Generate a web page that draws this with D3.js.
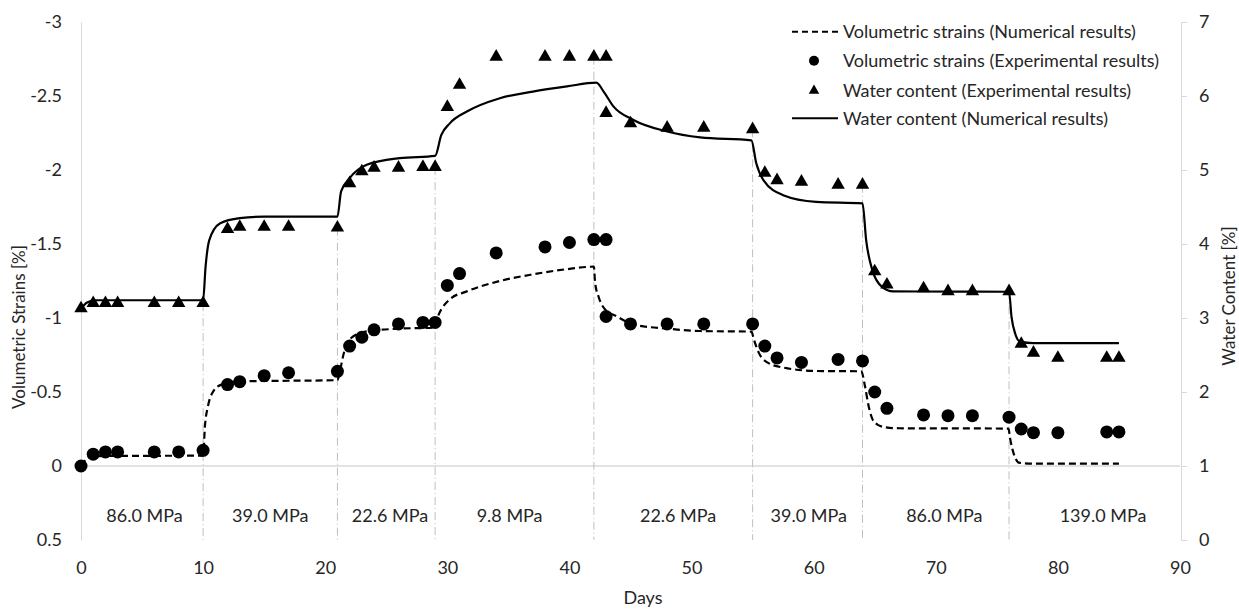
<!DOCTYPE html>
<html>
<head>
<meta charset="utf-8">
<script src="https://cdn.jsdelivr.net/npm/d3@7"></script>
<style>
  body { margin: 0; background: #fff; }
  text { font-family: Lato, "Open Sans", sans-serif; fill: #262626; }
</style>
</head>
<body>
<div id="chart"><svg></svg></div>
<script>
const width = 1239;
const height = 610;

// experimental points, [day, value]
const volExp = [
  [0, 0], [1, -0.08], [2, -0.095], [3, -0.095], [6, -0.095], [8, -0.095], [10, -0.106],
  [12, -0.55], [13, -0.57], [15, -0.61], [17, -0.63], [21, -0.64],
  [22, -0.81], [23, -0.87], [24, -0.92], [26, -0.96], [28, -0.97], [29, -0.97],
  [30, -1.22], [31, -1.30], [34, -1.44], [38, -1.48], [40, -1.51], [42, -1.53], [43, -1.53],
  [43, -1.01], [45, -0.96], [48, -0.96], [51, -0.96], [55, -0.96],
  [56, -0.81], [57, -0.73], [59, -0.70], [62, -0.72], [64, -0.71],
  [65, -0.50], [66, -0.39], [69, -0.345], [71, -0.34], [73, -0.34], [76, -0.33],
  [77, -0.25], [78, -0.225], [80, -0.225], [84, -0.23], [85, -0.23]
];

const waterExp = [
  [0, 3.13], [1, 3.2], [2, 3.2], [3, 3.2], [6, 3.2], [8, 3.2], [10, 3.2],
  [12, 4.2], [13, 4.23], [15, 4.23], [17, 4.23], [21, 4.22],
  [22, 4.82], [23, 4.98], [24, 5.03], [26, 5.03], [28, 5.04], [29, 5.04],
  [30, 5.85], [31, 6.15], [34, 6.53], [38, 6.53], [40, 6.53], [42, 6.53], [43, 6.53],
  [43, 5.77], [45, 5.63], [48, 5.57], [51, 5.57], [55, 5.55],
  [56, 4.96], [57, 4.86], [59, 4.84], [62, 4.8], [64, 4.8],
  [65, 3.63], [66, 3.45], [69, 3.4], [71, 3.36], [73, 3.36], [76, 3.36],
  [77, 2.65], [78, 2.53], [80, 2.46], [84, 2.46], [85, 2.46]
];

// numerical curves, [day, value]
const volNum = [
  [0, 0], [0.5, -0.05], [1, -0.065], [2, -0.068], [10, -0.07],
  [10.15, -0.27], [10.4, -0.405], [10.8, -0.5], [11.5, -0.55], [13, -0.572], [21, -0.58],
  [21.2, -0.64], [21.5, -0.755], [22, -0.856], [23.4, -0.91], [26.1, -0.928], [29, -0.935],
  [29.3, -1.025], [29.6, -1.07], [30.2, -1.126], [31.6, -1.18], [34.3, -1.25], [37, -1.295],
  [39.8, -1.33], [42, -1.347],
  [42.1, -1.24], [42.4, -1.14], [42.9, -1.06], [43.9, -1.01], [45.2, -0.957], [48, -0.928],
  [50.7, -0.912], [54.9, -0.908],
  [55.1, -0.856], [55.5, -0.766], [56.2, -0.70], [57.5, -0.665], [60.3, -0.642], [63.9, -0.64],
  [64.2, -0.54], [64.5, -0.405], [64.9, -0.304], [65.7, -0.264], [67, -0.255], [75.95, -0.253],
  [76.1, -0.18], [76.4, -0.079], [76.8, -0.023], [78, -0.016], [85, -0.016]
];

const waterNum = [
  [0, 3.13], [0.5, 3.21], [1.2, 3.24], [10, 3.24],
  [10.2, 3.69], [10.5, 4.05], [11.4, 4.28], [13, 4.35], [15, 4.37], [21, 4.37],
  [21.3, 4.71], [22, 4.89], [23.4, 5.07], [26.1, 5.16], [29, 5.19],
  [29.5, 5.47], [30.2, 5.63], [31.6, 5.79], [34.3, 5.97], [37, 6.06], [39.8, 6.13], [42.2, 6.18],
  [42.8, 6.06], [43.6, 5.86], [45.2, 5.68], [48, 5.52], [50.7, 5.44], [54.9, 5.40],
  [55.3, 5.09], [55.9, 4.86], [57.5, 4.66], [60.2, 4.57], [64, 4.55],
  [64.3, 4.05], [64.8, 3.65], [65.6, 3.42], [66.5, 3.36], [76, 3.355],
  [76.2, 3.02], [76.5, 2.79], [76.9, 2.68], [78, 2.66], [85, 2.66]
];

// load stages
const stageDays = [10, 21, 29, 42, 55, 64, 76];
const pressureLabels = ["86.0 MPa", "39.0 MPa", "22.6 MPa", "9.8 MPa", "22.6 MPa", "39.0 MPa", "86.0 MPa", "139.0 MPa"];
const pressureDays = [5.2, 15.5, 25.3, 35.1, 48.9, 59.6, 70.7, 83.7];

const dayTicks = [0, 10, 20, 30, 40, 50, 60, 70, 80, 90];
const strainTicks = [-3, -2.5, -2, -1.5, -1, -0.5, 0, 0.5];
const waterTicks = [0, 1, 2, 3, 4, 5, 6, 7];

const legendLabels = [
  "Volumetric strains (Numerical results)",
  "Volumetric strains (Experimental results)",
  "Water content (Experimental results)",
  "Water content (Numerical results)"
];

const svg = d3.select('#chart').select('svg')
    .attr('width', width)
    .attr('height', height);

const x = d3.scaleLinear().domain([0, 90]).range([81, 1180]);
const yL = d3.scaleLinear().domain([-3, 0.5]).range([22, 540]);
const yR = d3.scaleLinear().domain([7, 0]).range([22, 540]);

const axisColor = '#d9d9d9';

// left axis
const gl = svg.append('g')
    .attr('transform', 'translate(81,0)')
    .call(d3.axisLeft(yL).tickValues(strainTicks).tickFormat(d => String(d)).tickSize(0).tickPadding(19));
gl.select('.domain').attr('stroke', axisColor);

// right axis
const gr = svg.append('g')
    .attr('transform', 'translate(1181,0)')
    .call(d3.axisRight(yR).tickValues(waterTicks).tickFormat(d => String(d)).tickSizeInner(6).tickSizeOuter(0).tickPadding(12));
gr.selectAll('.domain, line').attr('stroke', axisColor);

// bottom labels
const gx = svg.append('g')
    .attr('transform', 'translate(0,540)')
    .call(d3.axisBottom(x).tickValues(dayTicks).tickSize(0).tickPadding(21));
gx.select('.domain').remove();

svg.selectAll('.tick text').style('font-size', '18px').attr('fill', '#262626');

// zero line
svg.append('line')
    .attr('x1', x(0)).attr('x2', x(90))
    .attr('y1', yL(0)).attr('y2', yL(0))
    .attr('stroke', axisColor).attr('stroke-width', 1.3);

// stage drop lines
svg.selectAll('line.stage')
    .data(stageDays)
    .join('line')
    .attr('class', 'stage')
    .attr('x1', d => x(d)).attr('x2', d => x(d))
    .attr('y1', d => yR(waterExp.find(p => p[0] === d)[1]))
    .attr('y2', yL(0.5))
    .attr('stroke', '#bfbfbf')
    .attr('stroke-width', 1)
    .attr('stroke-dasharray', '8,3,1,3');

// pressure labels
svg.selectAll('text.press')
    .data(pressureLabels)
    .join('text')
    .attr('class', 'press')
    .attr('x', (d, i) => x(pressureDays[i]))
    .attr('y', 522)
    .attr('text-anchor', 'middle')
    .style('font-size', '18px')
    .text(d => d);

// curves
const lineVol = d3.line().x(d => x(d[0])).y(d => yL(d[1])).curve(d3.curveMonotoneX);
const lineWater = d3.line().x(d => x(d[0])).y(d => yR(d[1])).curve(d3.curveMonotoneX);

svg.append('path')
    .attr('d', lineVol(volNum))
    .attr('fill', 'none')
    .attr('stroke', '#000')
    .attr('stroke-width', 2.2)
    .attr('stroke-dasharray', '7,4');

svg.selectAll('circle.vol')
    .data(volExp)
    .join('circle')
    .attr('class', 'vol')
    .attr('cx', d => x(d[0]))
    .attr('cy', d => yL(d[1]))
    .attr('r', 6.5)
    .attr('fill', '#000');

const tri = d3.symbol().type(d3.symbolTriangle).size(78);
svg.selectAll('path.water')
    .data(waterExp)
    .join('path')
    .attr('class', 'water')
    .attr('transform', d => `translate(${x(d[0])},${yR(d[1])})`)
    .attr('d', tri)
    .attr('fill', '#000');

svg.append('path')
    .attr('d', lineWater(waterNum))
    .attr('fill', 'none')
    .attr('stroke', '#000')
    .attr('stroke-width', 2.2);

// axis titles
svg.append('text')
    .attr('transform', 'translate(25,327) rotate(-90)')
    .attr('text-anchor', 'middle')
    .style('font-size', '17px')
    .text('Volumetric Strains [%]');

svg.append('text')
    .attr('transform', 'translate(1235,296) rotate(-90)')
    .attr('text-anchor', 'middle')
    .style('font-size', '17px')
    .text('Water Content [%]');

svg.append('text')
    .attr('x', 643).attr('y', 604)
    .attr('text-anchor', 'middle')
    .style('font-size', '18px')
    .text('Days');

// legend
const legY = [31.7, 60.7, 90.7, 118.3];
const leg = svg.append('g');
leg.append('line')
    .attr('x1', 792).attr('x2', 838).attr('y1', legY[0]).attr('y2', legY[0])
    .attr('stroke', '#000').attr('stroke-width', 2).attr('stroke-dasharray', '6,4');
leg.append('circle')
    .attr('cx', 814).attr('cy', legY[1]).attr('r', 5).attr('fill', '#000');
leg.append('path')
    .attr('transform', `translate(814,${legY[2]})`)
    .attr('d', d3.symbol().type(d3.symbolTriangle).size(48))
    .attr('fill', '#000');
leg.append('line')
    .attr('x1', 792).attr('x2', 838).attr('y1', legY[3]).attr('y2', legY[3])
    .attr('stroke', '#000').attr('stroke-width', 2);
leg.selectAll('text')
    .data(legendLabels)
    .join('text')
    .attr('x', 843)
    .attr('y', (d, i) => legY[i])
    .attr('dy', '0.35em')
    .style('font-size', '18px')
    .text(d => d);
</script>
</body>
</html>
